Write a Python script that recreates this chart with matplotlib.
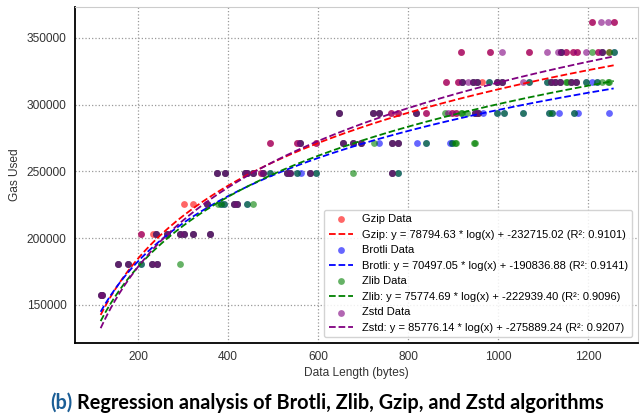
import numpy as np
import matplotlib
matplotlib.use("Agg")
import matplotlib.pyplot as plt

plt.rcParams['font.family'] = ['Liberation Sans', 'DejaVu Sans']

# gas levels (rows) and data lengths of the points on each row
gas_levels = [157800, 180500, 203200, 225900, 248600, 271300, 294000, 316700, 339400, 362100]

gzip_rows = [
    [118, 121],
    [156, 177, 232, 243],
    [206, 233, 241, 264, 293, 303, 323, 360],
    [303, 323, 354, 412, 419],
    [375, 392, 438, 443, 456, 473, 478, 530, 538, 582, 764],
    [493, 553, 560, 596, 656, 678, 696, 764, 778],
    [647, 722, 734, 762, 778, 818, 839, 897, 907, 948, 954],
    [884, 910, 919, 944, 952, 964, 996, 1007, 1116, 1126, 1136, 1162, 1173],
    [916, 981, 1068, 1140, 1150, 1165, 1175, 1222, 1230, 1245],
    [1208, 1256],
]
brotli_rows = [
    [118, 121],
    [156, 177, 206, 232, 243],
    [241, 264, 293, 303, 323, 360],
    [354, 384, 391, 412, 419, 443],
    [375, 392, 438, 443, 456, 478, 493, 530, 538, 553, 562, 582, 596, 764, 778],
    [560, 656, 678, 696, 734, 764, 778, 819, 840, 892, 897],
    [647, 722, 734, 818, 948, 954, 967, 997, 1012, 1055, 1113, 1119, 1134, 1169, 1176, 1246],
    [919, 944, 952, 979, 996, 1007, 1067, 1108, 1116, 1126, 1136, 1162, 1173, 1194, 1208, 1219],
    [1140, 1230, 1256],
    [],
]
zlib_rows = [
    [118, 121],
    [156, 177, 206, 232, 243, 293],
    [241, 264, 293, 303, 323, 360],
    [354, 378, 384, 391, 412, 419, 443, 456],
    [375, 392, 438, 443, 456, 478, 493, 530, 538, 553, 582, 596, 677, 764, 778],
    [560, 656, 678, 696, 723, 764, 778, 840, 897, 904, 906, 947, 949],
    [647, 722, 734, 818, 882, 918, 920, 931, 948, 954, 997, 1012, 1055, 1113, 1119, 1169],
    [919, 944, 952, 979, 996, 1007, 1067, 1108, 1116, 1126, 1136, 1150, 1152, 1162, 1173,
     1194, 1219, 1231, 1244, 1246],
    [1140, 1208, 1230, 1245, 1256],
    [],
]
zstd_rows = [
    [118, 121],
    [156, 177, 232, 243],
    [206, 241, 264, 293, 303, 323, 360],
    [354, 412, 419],
    [375, 392, 438, 443, 456, 473, 478, 530, 538, 582, 764],
    [493, 553, 560, 596, 656, 678, 696, 764, 778],
    [647, 722, 734, 762, 778, 818, 839, 889, 897, 907, 948, 954],
    [884, 910, 919, 933, 944, 952, 996, 1007, 1054, 1116, 1126, 1136, 1162, 1173],
    [916, 981, 1007, 1068, 1107, 1132, 1140, 1150, 1165, 1175, 1195, 1222, 1230],
    [1208, 1228, 1243, 1256],
]

names = ['Gzip', 'Brotli', 'Zlib', 'Zstd']
colors = ['red', 'blue', 'green', 'purple']
slopes = [78794.63, 70497.05, 75774.69, 85776.14]
intercepts = [-232715.02, -190836.88, -222939.40, -275889.24]
r2 = [0.9101, 0.9141, 0.9096, 0.9207]
all_rows = [gzip_rows, brotli_rows, zlib_rows, zstd_rows]

fig = plt.figure(figsize=(6.43, 4.19), dpi=100)
ax = fig.add_axes([0.1166, 0.1814, 0.8756, 0.8012])

x_fit = np.linspace(117, 1256, 300)
for name, c, rows, a, b, r in zip(names, colors, all_rows, slopes, intercepts, r2):
    xs, ys = [], []
    for level, row in zip(gas_levels, rows):
        xs += row
        ys += [level] * len(row)
    ax.scatter(xs, ys, s=24, color=c, alpha=0.6, linewidths=0, label=f'{name} Data')
    ax.plot(x_fit, a * np.log(x_fit) + b, '--', color=c, lw=1.3,
            label=f'{name}: y = {a:.2f} * log(x) + {b:.2f} (R\u00b2: {r:.4f})')

ax.set_xlim(60, 1310)
ax.set_ylim(121500, 373000)
ax.set_xticks([200, 400, 600, 800, 1000, 1200])
ax.set_yticks([150000, 200000, 250000, 300000, 350000])
ax.grid(True, linestyle=':', color='#999999', lw=0.9)
ax.set_axisbelow(True)
ax.tick_params(length=0, labelsize=8.6, pad=6, colors='#333333')
for s in ['top', 'right']:
    ax.spines[s].set_color('#cccccc')
for s in ['left', 'bottom']:
    ax.spines[s].set_color('black')
    ax.spines[s].set_linewidth(1.3)
ax.set_xlabel('Data Length (bytes)', fontsize=8.6, color='#333333', labelpad=3)
ax.set_ylabel('Gas Used', fontsize=8.6, color='#333333', labelpad=4)

leg = ax.legend(loc='lower right', fontsize=8, frameon=True, framealpha=0.85,
                edgecolor='#cccccc', handlelength=2.2)

# caption below the chart
t1 = fig.text(0.078, 0.038, '(b)', color='#1b5e96', fontsize=14.3, fontweight='bold',
              family='Lato', va='center')
fig.canvas.draw()
bb = t1.get_window_extent()
fig.text((bb.x1 + 5) / fig.bbox.width, 0.038,
         'Regression analysis of Brotli, Zlib, Gzip, and Zstd algorithms',
         color='black', fontsize=14.3, fontweight='bold', family='Lato', va='center')

fig.savefig('out.png', dpi=100)
